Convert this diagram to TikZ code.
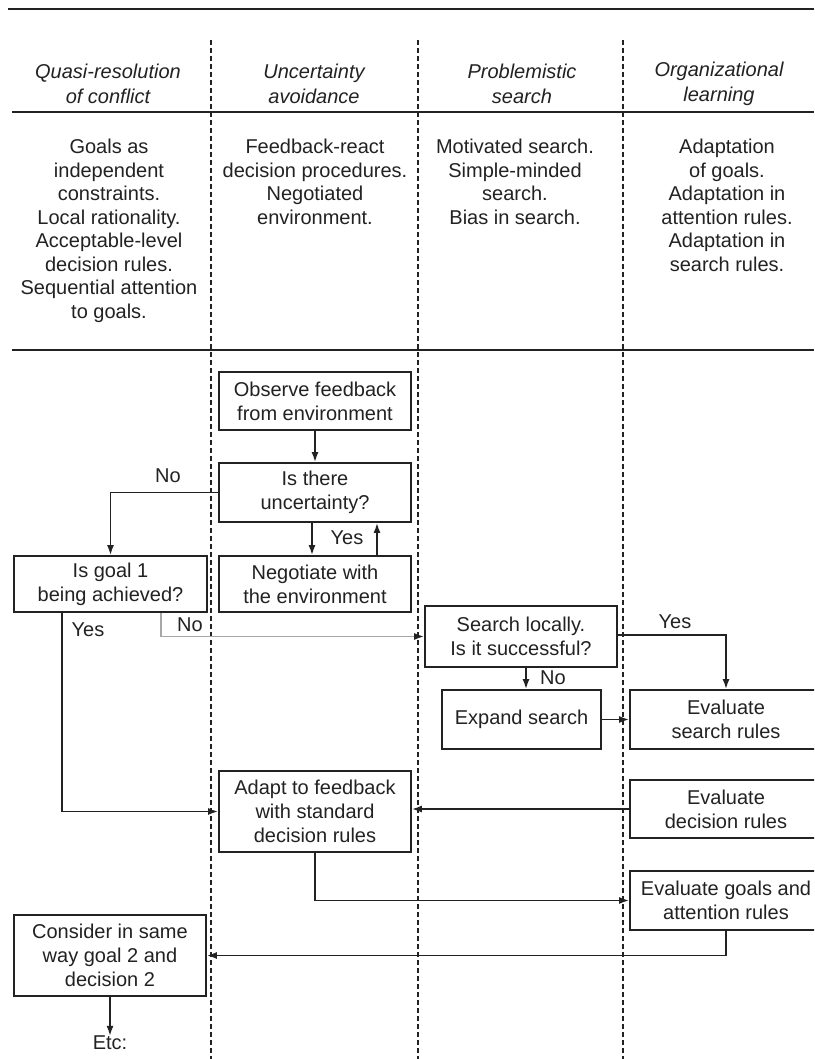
\documentclass[tikz,border=0pt]{standalone}
\usepackage{fontspec}
\setmainfont{Liberation Sans}
\usetikzlibrary{arrows.meta,calc}
\definecolor{ink}{HTML}{222222}
\definecolor{paleline}{HTML}{A8A8A8}
\begin{document}
\begin{tikzpicture}[x=1pt,y=-1pt,
  every node/.style={text=ink},
  txt/.style={font=\fontsize{20}{23.5}\selectfont, align=center, inner sep=0pt},
  hdr/.style={font=\fontsize{20}{25}\selectfont\itshape, align=center, inner sep=0pt},
  fbox/.style={draw=ink, line width=1.8pt, font=\fontsize{20}{24}\selectfont, align=center, inner sep=0pt},
  lbl/.style={font=\fontsize{20}{24}\selectfont, inner sep=0pt},
  lane/.style={draw=ink, line width=1.2pt, dash pattern=on 5pt off 3pt},
  rule/.style={draw=ink, line width=1.8pt},
  flow/.style={draw=ink, line width=1.6pt, -{Latex[length=10pt,width=7pt]}},
  paleflow/.style={draw=paleline, line width=1.6pt, -{Latex[length=10pt,width=7pt,color=ink]}},
]
\useasboundingbox (0,0) rectangle (814,1059);
\clip (0,0) rectangle (814,1059);
\fill[white] (0,0) rectangle (814,1059);

% rules
\draw[rule] (8,9) -- (814,9);
\draw[rule] (12,112) -- (814,112);
\draw[rule] (12,350) -- (814,350);

% lane separators
\draw[lane] (211,40) -- (211,1059);
\draw[lane] (418,40) -- (418,1059);
\draw[lane] (623,40) -- (623,1059);

% headers
\node[hdr] (h1) at (108,84) {Quasi-resolution\\of conflict};
\node[hdr] (h2) at (314,84) {Uncertainty\\avoidance};
\node[hdr] (h3) at (522,84) {Problemistic\\search};
\node[hdr] (h4) at (719,84) {Organizational\\learning};

% descriptions
\node[txt, anchor=north] (d1) at (109,139) {Goals as\\independent\\constraints.\\Local rationality.\\Acceptable-level\\decision rules.\\Sequential attention\\to goals.};
\node[txt, anchor=north] (d2) at (315,139) {Feedback-react\\decision procedures.\\Negotiated\\environment.};
\node[txt, anchor=north] (d3) at (515,139) {Motivated search.\\Simple-minded\\search.\\Bias in search.};
\node[txt, anchor=north] (d4) at (727,139) {Adaptation\\of goals.\\Adaptation in\\attention rules.\\Adaptation in\\search rules.};

% flow boxes
\node[fbox, minimum width=192pt, minimum height=58pt] (obs) at (315,401) {Observe feedback\\from environment};
\node[fbox, minimum width=192pt, minimum height=59pt] (unc) at (315,492.5) {Is there\\uncertainty?};
\node[fbox, minimum width=192pt, minimum height=56pt] (neg) at (315,584) {Negotiate with\\the environment};
\node[fbox, minimum width=193pt, minimum height=56pt] (goal) at (110.5,584) {Is goal 1\\being achieved?};
\node[fbox, minimum width=192pt, minimum height=61pt] (srch) at (521,636.5) {Search locally.\\Is it successful?};
\node[fbox, minimum width=159pt, minimum height=59pt] (exp) at (521.5,719.5) {Expand search};
\node[fbox, minimum width=192pt, minimum height=59pt] (evs) at (726,719.5) {Evaluate\\search rules};
\node[fbox, minimum width=192pt, minimum height=81pt] (adapt) at (315,811.5) {Adapt to feedback\\with standard\\decision rules};
\node[fbox, minimum width=192pt, minimum height=58pt] (evd) at (726,809) {Evaluate\\decision rules};
\node[fbox, minimum width=192pt, minimum height=59pt] (evg) at (726,900.5) {Evaluate goals and\\attention rules};
\node[fbox, minimum width=192pt, minimum height=81pt] (cons) at (110,955.5) {Consider in same\\way goal 2 and\\decision 2};
\node[lbl] (etc) at (110,1043) {Etc:};

% helper coordinates
\coordinate (uncY) at ($(unc.south)+(-3,0)$);
\coordinate (negY) at ($(neg.north)+(-3,0)$);
\coordinate (negUp) at ($(neg.north)+(62,0)$);
\coordinate (uncUp) at ($(unc.south)+(62,0)$);
\coordinate (goalYes) at ($(goal.south)+(-48.5,0)$);
\coordinate (goalNo) at ($(goal.south)+(50.5,0)$);
\coordinate (srchNo) at ($(srch.south)+(5,0)$);
\coordinate (expIn) at ($(exp.north)+(4.5,0)$);

% connectors
\draw[flow] (obs) -- (unc);
\draw[flow] (unc.west) -| (goal.north);
\draw[flow] (uncY) -- (negY);
\draw[flow] (negUp) -- (uncUp);
\draw[flow] (goalYes) |- (adapt.west);
\draw[paleflow] (goalNo) |- (srch.west);
\draw[flow] ($(srch.east)+(0,-1.5)$) -| (evs.north);
\draw[flow] (srchNo) -- (expIn);
\draw[flow] (exp.east) -- (evs.west);
\draw[flow] (evd.west) -- (evd.west -| adapt.east);
\draw[flow] (adapt.south) |- (evg.west);
\draw[flow] (evg.south) |- (cons.east);
\draw[flow] (cons.south) -- (etc.north);

% labels
\node[lbl] (l1) at (168,476) {No};
\node[lbl] (l2) at (347,538) {Yes};
\node[lbl] (l3) at (88,630) {Yes};
\node[lbl] (l4) at (190,625) {No};
\node[lbl] (l5) at (675,622) {Yes};
\node[lbl] (l6) at (553,678) {No};
\end{tikzpicture}
\end{document}
